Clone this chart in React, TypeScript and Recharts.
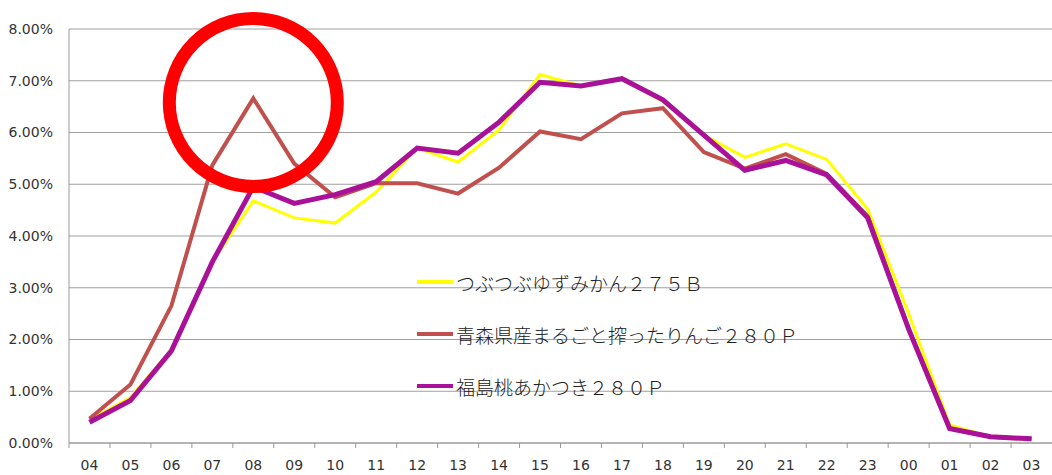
import React from "react"
import {
  LineChart,
  Line,
  XAxis,
  YAxis,
  CartesianGrid,
  Legend,
  ReferenceDot,
} from "recharts"

const hours = ["04", "05", "06", "07", "08", "09", "10", "11", "12", "13", "14", "15", "16", "17", "18", "19", "20", "21", "22", "23", "00", "01", "02", "03"]

// share of sales per hour, in %
const yuzu = [0.45, 0.88, 1.8, 3.5, 4.68, 4.35, 4.25, 4.85, 5.7, 5.43, 6.05, 7.12, 6.9, 7.03, 6.6, 5.95, 5.52, 5.78, 5.48, 4.52, 2.5, 0.35, 0.12, 0.1]
const ringo = [0.47, 1.13, 2.65, 5.37, 6.66, 5.4, 4.75, 5.02, 5.02, 4.82, 5.32, 6.02, 5.87, 6.37, 6.47, 5.62, 5.3, 5.58, 5.2, 4.38, 2.2, 0.28, 0.12, 0.08]
const momo = [0.4, 0.82, 1.78, 3.5, 4.95, 4.63, 4.8, 5.05, 5.7, 5.6, 6.2, 6.97, 6.9, 7.04, 6.63, 5.95, 5.27, 5.46, 5.18, 4.35, 2.2, 0.28, 0.12, 0.08]

const yTicks = [0, 1, 2, 3, 4, 5, 6, 7, 8]

const series = [
  { key: "yuzu", name: "つぶつぶゆずみかん２７５Ｂ", color: "#ffff00", width: 3 },
  { key: "ringo", name: "青森県産まるごと搾ったりんご２８０Ｐ", color: "#c0504d", width: 4 },
  { key: "momo", name: "福島桃あかつき２８０Ｐ", color: "#aa1199", width: 5 },
]

// the circled peak (hour 08, red line)
const highlightHour = "08"
const highlightValue = 6.58

const data = hours.map((hour, i) => ({
  hour,
  yuzu: yuzu[i],
  ringo: ringo[i],
  momo: momo[i],
}))

const HourTick = (props: any) => {
  const { x, y, payload } = props
  const half = payload.offset ?? 20.5
  // y comes in below the axis line by tickSize + tickMargin
  const axisY = y - 8
  return (
    <g>
      <line x1={x - half} x2={x - half} y1={axisY} y2={axisY + 5} stroke="#999" />
      <text x={x} y={axisY + 27} textAnchor="middle" fontSize={14} fill="#333" fontFamily="DejaVu Sans">
        {payload.value}
      </text>
    </g>
  )
}

const renderLegend = () => (
  <div style={{ fontFamily: "'Noto Sans CJK JP'", fontSize: 19, color: "#222" }}>
    {series.map(s => (
      <div key={s.key} style={{ display: "flex", alignItems: "center", height: 52 }}>
        <span style={{ display: "inline-block", width: 36, height: 4, background: s.color, marginRight: 3 }} />
        <span style={{ fontWeight: 300 }}>{s.name}</span>
      </div>
    ))}
  </div>
)

export default function App() {
  return (
    <div style={{ position: "absolute", left: 0, top: 0, width: 1052, height: 475, background: "#fff" }}>
      <LineChart width={1052} height={475} data={data} margin={{ top: 29, right: 0, bottom: 0, left: 0 }}>
        <CartesianGrid vertical={false} stroke="#a0a0a0" />
        <XAxis
          dataKey="hour"
          scale="band"
          stroke="#999"
          tickLine={false}
          tick={<HourTick />}
          height={32}
          interval={0}
        />
        <YAxis
          width={69}
          domain={[0, 8]}
          ticks={yTicks}
          stroke="#999"
          tickLine={false}
          tickMargin={10}
          tickFormatter={(v: number) => `${v.toFixed(2)}%`}
          tick={{ fontSize: 14, fill: "#333", fontFamily: "DejaVu Sans" }}
          interval={0}
        />
        <Legend
          content={renderLegend}
          layout="vertical"
          align="center"
          verticalAlign="middle"
          wrapperStyle={{ left: 417, top: 256, width: 420 }}
        />
        {series.map(s => (
          <Line
            key={s.key}
            type="linear"
            dataKey={s.key}
            name={s.name}
            stroke={s.color}
            strokeWidth={s.width}
            dot={false}
            activeDot={false}
            isAnimationActive={false}
          />
        ))}
        <ReferenceDot
          x={highlightHour}
          y={highlightValue}
          r={84}
          fill="none"
          stroke="#ff0000"
          strokeWidth={13}
        />
      </LineChart>
    </div>
  )
}
